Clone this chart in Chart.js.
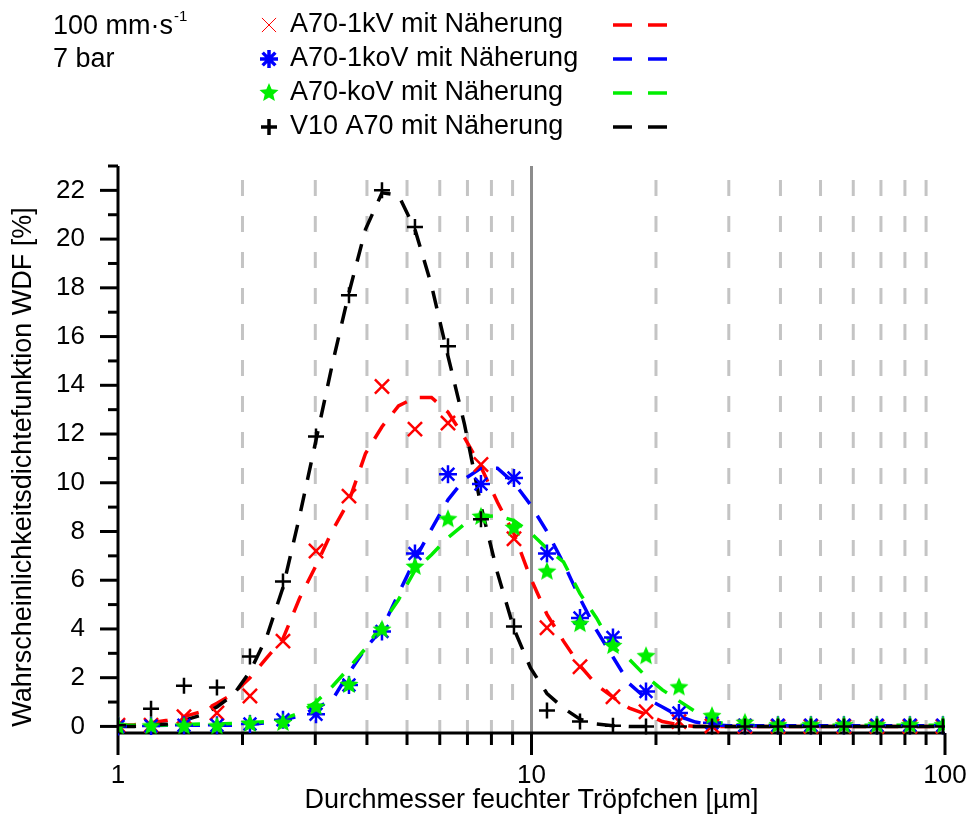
<!DOCTYPE html>
<html>
<head>
<meta charset="utf-8">
<script src="https://cdn.jsdelivr.net/npm/chart.js@4/dist/chart.umd.min.js"></script>
<style>
  body { margin: 0; background: #ffffff; }
  #wrap { width: 967px; height: 816px; }
</style>
</head>
<body>
<div id="wrap"><canvas id="wdfChart" width="967" height="816"></canvas></div>
<script>
// droplet size classes [µm] (marker positions)
const binSizes = [1.000, 1.202, 1.444, 1.735, 2.085, 2.506, 3.012, 3.619, 4.349, 5.226, 6.281, 7.548, 9.070,
  10.90, 13.10, 15.74, 18.92, 22.73, 27.32, 32.82, 39.45, 47.40, 56.96, 68.45, 82.26, 98.86];

// measured WDF [%]
const a70_1kV  = [0.05, 0.05, 0.4, 0.55, 1.25, 3.5, 7.2, 9.45, 13.95, 12.2, 12.45, 10.75, 7.7, 4.05, 2.45, 1.22, 0.6, 0.2, 0.02, 0, 0, 0, 0, 0, 0, 0];
const a70_1koV = [0, 0.02, 0.05, 0.05, 0.1, 0.27, 0.5, 1.7, 3.9, 7.1, 10.35, 9.95, 10.2, 7.1, 4.45, 3.65, 1.43, 0.55, 0.15, 0.05, 0.05, 0.05, 0.05, 0.05, 0.05, 0.05];
const a70_koV  = [0, 0, 0, 0, 0.1, 0.14, 0.8, 1.7, 3.97, 6.55, 8.5, 8.6, 8.15, 6.35, 4.2, 3.3, 2.88, 1.6, 0.42, 0.15, 0.05, 0.05, 0.05, 0.05, 0.05, 0.05];
const v10_a70  = [0.05, 0.73, 1.67, 1.6, 2.87, 5.95, 11.9, 17.7, 22.0, 20.5, 15.6, 8.5, 4.1, 0.65, 0.2, 0.03, 0, 0, 0, 0, 0, 0, 0, 0, 0, 0];

// sizes where the approximation curves are sampled [µm]
const fitSizes = [1.000, 1.096, 1.202, 1.317, 1.444, 1.583, 1.735, 1.902, 2.085, 2.286, 2.506, 2.747, 3.012,
  3.302, 3.619, 3.968, 4.349, 4.768, 5.226, 5.730, 6.281, 6.886, 7.548, 8.274, 9.070, 9.943, 10.90,
  11.95, 13.10, 14.36, 15.74, 17.25, 18.92, 20.73, 22.73, 24.92, 27.32, 29.94, 32.82, 35.98, 39.45,
  43.24, 47.40, 51.96, 56.96, 62.45, 68.45, 75.04, 82.26, 90.18, 98.86];

// approximation curves (Näherung)
const fit_1kV  = [0.05, 0.07, 0.15, 0.25, 0.4, 0.6, 0.95, 1.35, 2.0, 2.8, 3.6, 5.25, 6.6, 8.05, 9.25, 11.2, 12.3, 13.15, 13.5, 13.5, 12.9,
  11.85, 10.65, 9.2, 7.9, 6.1, 4.6, 3.5, 2.5, 1.7, 1.2, 0.75, 0.5, 0.2, 0.07, 0, 0, 0, 0, 0, 0, 0, 0, 0, 0, 0, 0, 0, 0, 0, 0];
const fit_1koV = [0.03, 0.03, 0.04, 0.05, 0.05, 0.05, 0.05, 0.05, 0.08, 0.15, 0.27, 0.42, 0.75, 1.1, 2.2, 3.2, 4.0, 5.45, 6.85, 8.1, 9.3,
  10.15, 10.6, 10.6, 10.0, 9.1, 8.0, 6.7, 5.25, 3.95, 2.85, 1.75, 1.15, 0.8, 0.42, 0.18, 0.07, 0.03, 0.03, 0.03, 0.03, 0.03, 0.03,
  0.03, 0.03, 0.03, 0.03, 0.03, 0.03, 0.03, 0.03];
const fit_koV  = [0.05, 0.05, 0.05, 0.06, 0.08, 0.1, 0.1, 0.12, 0.15, 0.2, 0.3, 0.55, 1.0, 1.65, 2.4, 3.2, 4.2, 5.2, 6.4, 7.05, 7.75,
  8.3, 8.6, 8.65, 8.45, 7.95, 7.3, 6.75, 5.45, 4.45, 3.25, 2.75, 2.05, 1.5, 1.05, 0.6, 0.22, 0.08, 0.05, 0.05, 0.05, 0.05, 0.05,
  0.05, 0.05, 0.05, 0.05, 0.05, 0.05, 0.05, 0.05];
const fit_v10  = [0, 0, 0.05, 0.1, 0.25, 0.45, 0.8, 1.3, 2.25, 3.65, 5.7, 8.6, 11.75, 14.9, 17.8, 20.4, 21.9, 21.8, 20.4, 18.1, 15.2,
  12.4, 9.05, 6.3, 4.0, 2.4, 1.35, 0.75, 0.3, 0.1, 0.03, 0, 0, 0, 0, 0, 0, 0, 0, 0, 0, 0, 0, 0, 0, 0, 0, 0, 0, 0, 0];

// axis ticks
const xTickValues = [1, 2, 3, 4, 5, 6, 7, 8, 9, 10, 20, 30, 40, 50, 60, 70, 80, 90, 100];
const xLabelValues = [1, 10, 100];
const yTickValues = [0, 1, 2, 3, 4, 5, 6, 7, 8, 9, 10, 11, 12, 13, 14, 15, 16, 17, 18, 19, 20, 21, 22, 23];

const seriesNames = ['A70-1kV mit Näherung', 'A70-1koV mit Näherung', 'A70-koV mit Näherung', 'V10 A70 mit Näherung'];
const seriesColors = ['#ff0000', '#0000ff', '#00ee00', '#000000'];

const FONT = '"Liberation Sans", Arial, sans-serif';

// filled five-point star for the A70-koV markers
function makeStar(color, r) {
  const c = document.createElement('canvas');
  c.width = c.height = r * 2 + 2;
  const g = c.getContext('2d');
  g.fillStyle = color;
  g.beginPath();
  for (let i = 0; i < 10; i++) {
    const rad = i % 2 === 0 ? r : r * 0.45;
    const a = -Math.PI / 2 + i * Math.PI / 5;
    const px = r + 1 + rad * Math.cos(a), py = r + 1 + rad * Math.sin(a);
    if (i === 0) g.moveTo(px, py); else g.lineTo(px, py);
  }
  g.closePath();
  g.fill();
  return c;
}
const greenStar = makeStar('#00ee00', 10);

const toPoints = (xs, ys) => xs.map((x, i) => ({ x: x, y: ys[i] }));

const markerStyles = [
  { pointStyle: 'crossRot', pointRadius: 10, pointBorderWidth: 2.5 },
  { pointStyle: 'star', pointRadius: 9, pointBorderWidth: 2.5 },
  { pointStyle: greenStar, pointRadius: 10, pointBorderWidth: 0 },
  { pointStyle: 'cross', pointRadius: 8, pointBorderWidth: 2.5 }
];
const markerData = [a70_1kV, a70_1koV, a70_koV, v10_a70];
const fitData = [fit_1kV, fit_1koV, fit_koV, fit_v10];

const datasets = [];
markerData.forEach((ys, k) => {
  datasets.push(Object.assign({
    label: seriesNames[k],
    data: toPoints(binSizes, ys),
    showLine: false,
    borderColor: seriesColors[k],
    backgroundColor: seriesColors[k],
    clip: { left: 0, top: 0, right: 0, bottom: 10 },
    order: 4 - k
  }, markerStyles[k]));
});
fitData.forEach((ys, k) => {
  datasets.push({
    label: seriesNames[k] + ' (fit)',
    data: toPoints(fitSizes, ys),
    showLine: true,
    borderColor: seriesColors[k],
    borderWidth: 3.5,
    borderDash: [18, 14],
    pointRadius: 0,
    fill: false,
    order: 10 + (3 - k)
  });
});

// grid, axis lines, tick marks, titles and the legend block
const decorPlugin = {
  id: 'decor',
  beforeDatasetsDraw(chart) {
    const { ctx, chartArea: a, scales: { x, y } } = chart;
    ctx.save();
    // vertical grid lines
    xTickValues.forEach(v => {
      if (v === 1 || v === 100) return;
      const px = x.getPixelForValue(v);
      ctx.beginPath();
      if (v === 10) {
        ctx.setLineDash([]);
        ctx.strokeStyle = '#8c8c8c';
      } else {
        ctx.setLineDash([16, 20]);
        ctx.lineDashOffset = 22;
        ctx.strokeStyle = '#c4c4c4';
      }
      ctx.lineWidth = 3;
      ctx.moveTo(px, a.top);
      ctx.lineTo(px, a.bottom);
      ctx.stroke();
    });
    ctx.setLineDash([]);
    ctx.strokeStyle = '#000';
    ctx.lineWidth = 3;
    // axis lines
    ctx.beginPath();
    ctx.moveTo(a.left, a.top);
    ctx.lineTo(a.left, a.bottom);
    ctx.moveTo(a.left, a.bottom);
    ctx.lineTo(a.right, a.bottom);
    ctx.stroke();
    // y ticks (outside)
    yTickValues.forEach(v => {
      const py = y.getPixelForValue(v);
      const len = v % 2 === 0 ? 18 : 10;
      ctx.beginPath();
      ctx.moveTo(a.left - len, py);
      ctx.lineTo(a.left, py);
      ctx.stroke();
    });
    // x ticks (outside)
    xTickValues.forEach(v => {
      const px = x.getPixelForValue(v);
      const len = xLabelValues.includes(v) ? 22 : 12;
      ctx.beginPath();
      ctx.moveTo(px, a.bottom);
      ctx.lineTo(px, a.bottom + len);
      ctx.stroke();
    });
    ctx.restore();
  },
  afterDraw(chart) {
    const { ctx, chartArea: a } = chart;
    ctx.save();
    ctx.fillStyle = '#000';
    ctx.font = '27px ' + FONT;
    ctx.textBaseline = 'middle';
    // axis titles
    ctx.textAlign = 'center';
    ctx.fillText('Durchmesser feuchter Tröpfchen [µm]', (a.left + a.right) / 2, 801);
    ctx.save();
    ctx.translate(24, 467);
    ctx.rotate(-Math.PI / 2);
    ctx.fillText('Wahrscheinlichkeitsdichtefunktion WDF [%]', 0, 0);
    ctx.restore();
    // conditions
    ctx.textAlign = 'left';
    ctx.fillText('100 mm·s', 53, 27);
    const w = ctx.measureText('100 mm·s').width;
    ctx.font = '15px ' + FONT;
    ctx.fillText('-1', 53 + w + 1, 17);
    ctx.font = '27px ' + FONT;
    ctx.fillText('7 bar', 53, 60);
    // legend rows
    const rows = [25, 59, 93, 127];
    rows.forEach((ry, k) => {
      const st = markerStyles[k];
      ctx.strokeStyle = seriesColors[k];
      ctx.fillStyle = seriesColors[k];
      Chart.helpers.drawPoint(ctx, {
        pointStyle: st.pointStyle,
        radius: st.pointRadius,
        borderWidth: st.pointBorderWidth || 0,
        rotation: 0
      }, 269, ry);
      ctx.fillStyle = '#000';
      ctx.fillText(seriesNames[k], 290, ry);
      ctx.lineWidth = 3.5;
      ctx.setLineDash([]);
      ctx.beginPath();
      ctx.moveTo(613, ry); ctx.lineTo(632, ry);
      ctx.moveTo(648, ry); ctx.lineTo(667, ry);
      ctx.stroke();
    });
    ctx.restore();
  }
};

new Chart(document.getElementById('wdfChart'), {
  type: 'scatter',
  data: { datasets: datasets },
  options: {
    responsive: false,
    animation: false,
    devicePixelRatio: 1,
    layout: { padding: { top: 166, right: 22, left: 0, bottom: 0 } },
    plugins: { legend: { display: false }, tooltip: { enabled: false } },
    scales: {
      x: {
        type: 'logarithmic',
        position: 'bottom',
        min: 1,
        max: 100,
        afterBuildTicks: (scale) => { scale.ticks = xTickValues.map(v => ({ value: v })); },
        afterFit: (scale) => {
          scale.height = 83;
          scale.paddingLeft = 0;
          scale.paddingRight = 0;
        },
        grid: { display: false },
        border: { display: false },
        ticks: {
          autoSkip: false,
          maxRotation: 0,
          padding: 19,
          color: '#000',
          font: { family: FONT, size: 26 },
          callback: (v) => xLabelValues.includes(v) ? String(v) : ''
        }
      },
      y: {
        type: 'linear',
        min: -0.27,
        max: 23,
        afterBuildTicks: (scale) => { scale.ticks = yTickValues.map(v => ({ value: v })); },
        afterFit: (scale) => {
          scale.width = 118;
          scale.paddingTop = 0;
          scale.paddingBottom = 0;
        },
        grid: { display: false },
        border: { display: false },
        ticks: {
          autoSkip: false,
          padding: 25,
          color: '#000',
          font: { family: FONT, size: 26 },
          callback: (v) => v % 2 === 0 ? String(v) : ''
        }
      }
    }
  },
  plugins: [decorPlugin]
});
</script>
</body>
</html>
